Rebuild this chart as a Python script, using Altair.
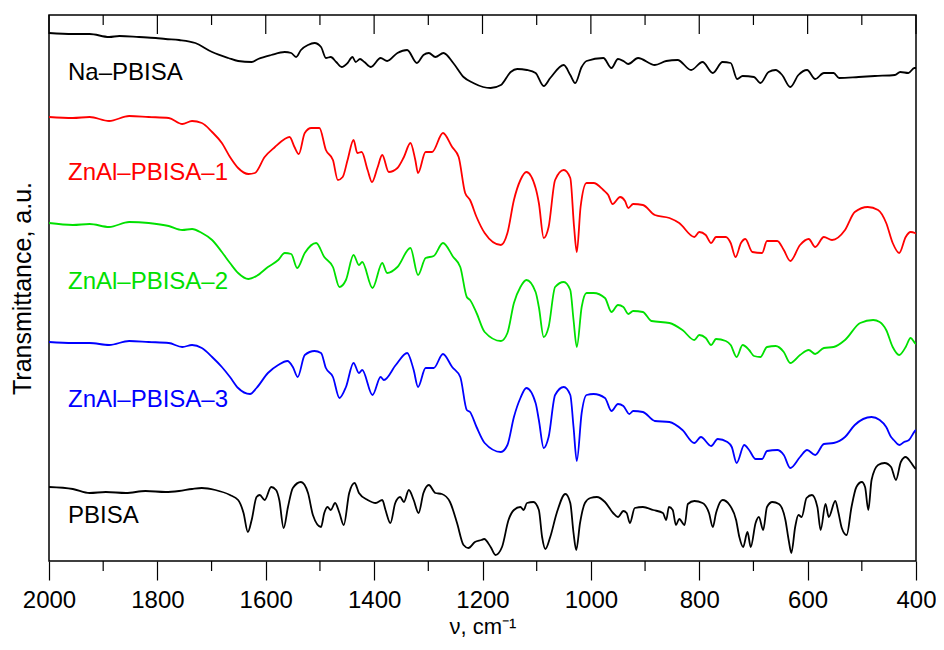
import altair as alt
import pandas as pd

SERIES = ["Na–PBISA", "ZnAl–PBISA–1", "ZnAl–PBISA–2", "ZnAl–PBISA–3", "PBISA"]
COLORS = ["#000000", "#ff0000", "#00e000", "#0000ff", "#000000"]
WIDTHS = [1.8, 1.8, 2.0, 1.0, 1.8]

MAJOR_TICKS = [2000, 1800, 1600, 1400, 1200, 1000, 800, 600, 400]
MINOR_TICKS = [1900, 1700, 1500, 1300, 1100, 900, 700, 500]

NA_NU = [2000,1956,1925,1889,1870,1834,1803,1785,1760,1730,1699,1669,1651,1626,1614,1590,1565,1553,1544,1535,1522,1510,1498,1489,1480,1470,1460,1449,1440,1434,1426,1418,1406,1388,1376,1357,1339,1321,1309,1299,1287,1272,1254,1235,1217,1199,1185,1166,1148,1136,1118,1102,1087,1075,1050,1038,1029,1017,1008,977,962,950,940,931,913,882,861,840,815,794,775,757,742,730,720,699,687,672,659,647,632,617,601,586,570,552,542,506,476,439,429,414,403,400]
NA_T = [528,527,527,524,525,524,523,522,521,518,509,503,500,499,502,506,509,508,504,511,516,518,514,503,504,499,494,498,504,499,502,499,494,503,500,508,511,498,506,508,504,508,498,484,478,474,473,476,489,492,491,488,475,483,496,486,478,494,500,503,493,502,500,497,503,496,500,501,491,499,488,499,498,482,485,484,478,489,491,486,474,486,491,482,488,488,483,484,485,486,489,488,493,493]

R_NU = [2000,1956,1925,1889,1852,1816,1779,1754,1736,1718,1699,1681,1666,1651,1632,1620,1602,1583,1565,1556,1547,1539,1528,1516,1501,1489,1476,1467,1458,1449,1438,1431,1423,1412,1404,1394,1385,1373,1357,1345,1333,1324,1319,1305,1293,1273,1256,1244,1232,1223,1211,1196,1166,1154,1142,1130,1119,1102,1096,1087,1078,1066,1050,1038,1031,1026,1019,1008,995,977,968,960,946,937,931,922,904,882,855,837,809,800,788,778,769,751,742,733,723,715,702,684,675,656,644,632,614,598,586,570,555,531,513,489,470,455,443,431,419,410,402,400]
R_T = [444,443,444,440,445,444,443,437,440,438,429,418,404,393,387,388,404,414,422,424,414,407,428,433,433,411,401,381,384,401,421,408,409,391,379,393,406,389,393,404,418,401,388,409,409,428,414,404,368,361,344,328,316,328,361,381,389,373,358,323,334,381,391,383,334,309,354,378,378,371,366,357,364,360,353,357,356,346,343,338,324,329,326,318,324,324,318,304,318,322,309,308,320,320,311,300,316,322,314,324,321,331,349,354,351,338,318,308,324,329,328,327]

G_NU = [2000,1956,1925,1889,1852,1816,1779,1754,1736,1718,1699,1681,1666,1651,1632,1617,1596,1577,1565,1553,1542,1528,1507,1492,1476,1464,1452,1438,1428,1422,1403,1385,1376,1357,1333,1319,1305,1290,1273,1254,1241,1229,1223,1211,1196,1166,1154,1142,1130,1119,1102,1096,1087,1078,1066,1050,1038,1032,1026,1017,1008,995,974,962,950,940,931,922,904,888,855,831,809,800,788,778,769,751,742,731,720,708,699,687,675,659,644,632,614,598,586,570,552,531,503,479,467,455,443,431,419,410,402,400]
G_T = [338,336,337,334,339,338,335,331,332,328,321,309,298,288,282,285,294,301,308,307,293,308,318,304,294,274,281,306,296,299,273,298,288,294,313,286,303,305,318,304,294,264,261,248,229,220,228,258,274,281,269,254,224,234,274,279,271,241,214,254,268,268,263,249,256,254,247,250,249,240,238,231,221,226,223,216,222,220,216,204,216,211,205,204,214,215,209,198,206,211,207,213,214,221,238,241,239,231,214,206,214,223,218,217]

B_NU = [2000,1956,1925,1889,1852,1816,1779,1754,1736,1718,1699,1681,1666,1651,1629,1617,1596,1577,1560,1550,1541,1528,1510,1498,1489,1476,1464,1452,1438,1428,1422,1403,1388,1382,1360,1339,1327,1319,1305,1290,1273,1256,1241,1229,1223,1211,1196,1166,1154,1142,1130,1119,1102,1096,1087,1078,1066,1050,1038,1032,1026,1017,1008,995,974,962,950,940,929,922,904,882,855,831,809,797,778,766,748,740,731,717,708,696,684,675,656,644,632,614,601,586,570,552,531,513,482,467,455,446,441,431,422,413,402,400]
B_T = [219,218,218,216,220,219,218,214,216,213,204,194,184,173,167,173,188,196,200,194,184,206,210,208,193,184,163,174,198,188,191,166,184,181,196,208,191,174,193,193,207,194,184,151,149,134,118,109,116,144,163,173,158,141,113,124,166,174,166,134,100,148,166,167,163,150,157,155,147,150,149,140,139,131,118,124,115,122,119,114,98,116,111,102,102,110,111,106,93,104,111,106,117,118,124,136,144,141,134,124,121,116,119,121,130,131]

P_NU = [2000,1956,1925,1895,1858,1822,1785,1760,1736,1718,1693,1666,1651,1641,1633,1626,1617,1611,1602,1590,1581,1575,1567,1559,1550,1535,1522,1513,1498,1492,1486,1480,1472,1464,1456,1446,1436,1428,1412,1397,1385,1379,1370,1361,1352,1345,1336,1327,1318,1309,1299,1287,1275,1260,1247,1235,1226,1214,1202,1197,1185,1176,1164,1152,1142,1130,1124,1118,1106,1096,1090,1084,1075,1063,1047,1038,1032,1027,1020,1011,1001,989,974,959,950,940,934,928,919,904,885,867,861,856,849,843,837,827,821,809,794,782,775,769,757,744,732,726,719,711,705,696,690,682,675,665,653,641,635,630,623,617,611,602,592,582,576,567,561,549,543,537,528,519,510,500,494,488,482,470,458,446,437,428,419,410,402,400]
P_T = [74,72,68,69,68,70,69,70,72,73,71,66,61,48,29,41,64,66,61,74,71,61,33,54,73,79,68,46,34,48,54,51,58,48,36,68,78,68,61,58,61,51,38,58,64,59,71,61,48,68,76,68,67,59,38,16,13,19,21,22,14,6,14,41,51,54,51,58,59,51,24,12,24,48,67,58,28,11,38,58,63,64,59,48,44,50,48,38,53,54,51,48,41,54,51,36,42,36,57,60,58,48,34,48,61,56,41,24,14,29,14,38,44,31,54,59,57,41,21,8,34,46,44,63,66,54,31,57,44,60,48,33,26,54,74,79,74,51,81,96,98,94,81,99,104,99,93,92]

LABEL_NU = [1965, 1965, 1965, 1965, 1965]
LABEL_T = [481, 381, 272, 154, 38]

rows = []
for name, nus, ts in zip(SERIES, [NA_NU, R_NU, G_NU, B_NU, P_NU], [NA_T, R_T, G_T, B_T, P_T]):
    assert len(nus) == len(ts), name
    rows += [{"series": name, "nu": n, "t": t} for n, t in zip(nus, ts)]
df = pd.DataFrame(rows)
labels_df = pd.DataFrame({"series": SERIES, "nu": LABEL_NU, "t": LABEL_T})
major_df = pd.DataFrame({"nu": MAJOR_TICKS})
minor_df = pd.DataFrame({"nu": MINOR_TICKS})

FONT = "Liberation Sans"
W, H = 867, 546

x_scale = alt.Scale(domain=[400, 2000], reverse=True, nice=False, zero=False)
y_scale = alt.Scale(domain=[0, 546], nice=False, zero=False)
color_scale = alt.Scale(domain=SERIES, range=COLORS)

x_enc = alt.X("nu:Q", scale=x_scale, axis=alt.Axis(
    values=MAJOR_TICKS, format="d", title="ν, cm⁻¹", orient="bottom",
    tickSize=19, tickWidth=1.2, tickColor="black", ticks=True,
    labelFontSize=24, labelFont=FONT, labelColor="black", labelPadding=8,
    labelFlush=False, labelOverlap=False, domain=False, grid=False,
    titleFontSize=22, titleFont=FONT, titleFontWeight="normal", titleColor="black",
    titleY=72, titleBaseline="alphabetic"))
y_enc = alt.Y("t:Q", scale=y_scale, axis=alt.Axis(
    title="Transmittance, a.u.", labels=False, ticks=False, domain=False, grid=False,
    titleFontSize=25, titleFont=FONT, titleFontWeight="normal", titleColor="black",
    titleAngle=-90, titleX=-27, titleY=273, titleAlign="center", titleBaseline="middle"))

lines = alt.Chart(df).mark_line(clip=True, interpolate="monotone").encode(
    x=x_enc, y=y_enc,
    color=alt.Color("series:N", scale=color_scale, legend=None),
    strokeWidth=alt.StrokeWidth("series:N", scale=alt.Scale(domain=SERIES, range=WIDTHS), legend=None),
    detail="series:N",
)

texts = alt.Chart(labels_df).mark_text(
    align="left", baseline="alphabetic", fontSize=24, font=FONT
).encode(
    x=x_enc, y=y_enc, text="series:N",
    color=alt.Color("series:N", scale=color_scale, legend=None),
)

top_major = alt.Chart(major_df).mark_rule(color="black", strokeWidth=1.2).encode(
    x=x_enc, y=alt.value(0), y2=alt.value(19))
top_minor = alt.Chart(minor_df).mark_rule(color="black", strokeWidth=1.2).encode(
    x=x_enc, y=alt.value(0), y2=alt.value(10))
bottom_minor = alt.Chart(minor_df).mark_rule(color="black", strokeWidth=1.2).encode(
    x=x_enc, y=alt.value(H), y2=alt.value(H + 10))

chart = alt.layer(lines, texts, top_major, top_minor, bottom_minor).properties(
    width=W, height=H,
    autosize=alt.AutoSizeParams(type="none"),
    padding={"left": 41, "top": 7, "right": 20, "bottom": 77},
).configure_view(stroke="black", strokeWidth=1.5)

chart.save("out.html", embed_options={"renderer": "svg", "actions": False})
